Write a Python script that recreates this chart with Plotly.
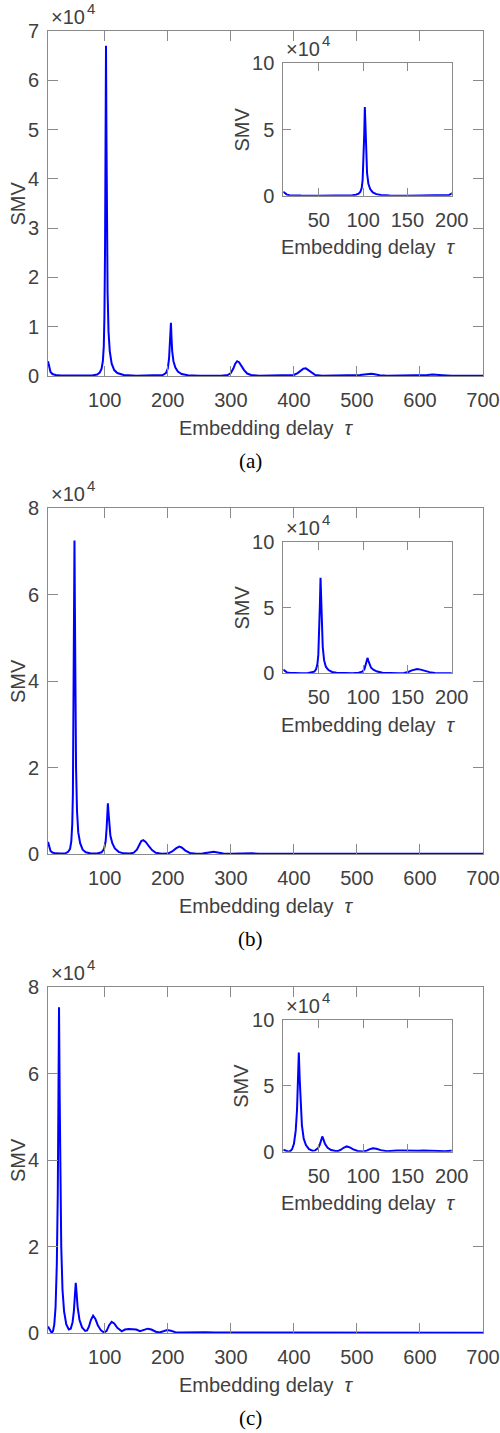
import plotly.graph_objects as go

W, H = 500, 1433

# ---------------- data (SMV in units of 1e4) ----------------
tau_a = [10, 12, 14, 17, 22, 30, 50, 80, 88, 92, 95, 97, 98.5, 99.5, 100.5, 101.3, 102, 102.7, 103.5, 104.5,
         106, 108, 111, 115, 120, 130, 150, 180, 192, 197, 200, 202, 203.5, 204.5, 205, 206, 207, 209, 212,
         216, 222, 232, 250, 285, 295, 300, 304, 307, 310, 313, 317, 321, 326, 332, 345, 390, 400, 406, 411,
         415, 419, 423, 428, 434, 445, 495, 505, 512, 518, 523, 528, 536, 548, 600, 612, 620, 628, 636, 650, 700]
smv_a = [0.30, 0.15, 0.08, 0.04, 0.02, 0.01, 0.005, 0.01, 0.03, 0.07, 0.15, 0.3, 0.6, 1.2, 2.6, 4.6, 6.7, 4.9, 2.9, 1.7,
         0.9, 0.5, 0.25, 0.12, 0.06, 0.02, 0.005, 0.005, 0.02, 0.06, 0.15, 0.35, 0.7, 1.0, 1.08, 0.75, 0.5, 0.3, 0.17,
         0.09, 0.04, 0.015, 0.005, 0.005, 0.02, 0.06, 0.15, 0.25, 0.30, 0.28, 0.2, 0.12, 0.05, 0.02, 0.005, 0.005, 0.02, 0.06, 0.11,
         0.15, 0.155, 0.12, 0.06, 0.02, 0.005, 0.005, 0.02, 0.03, 0.04, 0.045, 0.035, 0.015, 0.005, 0.005, 0.02, 0.03, 0.03, 0.015, 0.005, 0.005]

tau_b = [10, 12, 14, 17, 22, 30, 38, 42, 45, 47, 48.5, 49.5, 50.5, 51.3, 52, 52.7, 53.5, 54.5, 56, 58, 61, 65, 70, 78,
         88, 95, 99, 101.5, 103, 104.2, 105, 106, 107.3, 109, 112, 116, 122, 130, 140, 146, 151, 155, 158, 161, 165,
         170, 175, 181, 190, 200, 207, 213, 218, 222, 228, 235, 245, 255, 262, 268, 273, 279, 288, 300, 312, 320, 326,
         333, 345, 365, 375, 382, 392, 420, 440, 460, 500, 560, 620, 700]
smv_b = [0.28, 0.14, 0.07, 0.035, 0.015, 0.01, 0.02, 0.05, 0.12, 0.3, 0.7, 1.4, 3.0, 5.2, 7.25, 5.6, 3.4, 2.0, 1.0, 0.5, 0.25, 0.1, 0.04, 0.01,
         0.01, 0.04, 0.12, 0.3, 0.6, 1.0, 1.17, 0.95, 0.65, 0.42, 0.25, 0.13, 0.05, 0.015, 0.01, 0.03, 0.1, 0.22, 0.3, 0.32, 0.28,
         0.18, 0.09, 0.03, 0.005, 0.01, 0.06, 0.13, 0.17, 0.15, 0.08, 0.025, 0.005, 0.01, 0.03, 0.045, 0.05, 0.035, 0.01, 0.005, 0.01, 0.02, 0.025,
         0.015, 0.005, 0.005, 0.012, 0.012, 0.004, 0.003, 0.006, 0.003, 0.004, 0.003, 0.003, 0.003]

tau_c = [10, 12, 14, 16, 18, 20, 22, 24, 25.5, 26.5, 27.5, 28.5, 29.5, 31, 33, 35.5, 39, 43, 46, 49, 51, 52.5, 54, 55.5,
         57, 60, 64, 69, 72, 75, 78, 81.5, 85, 89, 94, 99, 103, 107, 111, 115, 120, 127, 132, 138, 145, 150, 156, 162,
         168, 174, 181, 187, 193, 199, 205, 212, 220, 230, 245, 260, 275, 290, 300, 320, 350, 380, 410, 450, 500, 550,
         600, 650, 700]
smv_c = [0.15, 0.1, 0.03, 0.0, 0.05, 0.2, 0.6, 1.6, 3.2, 5.2, 7.53, 5.5, 3.6, 2.0, 1.0, 0.5, 0.2, 0.08, 0.1, 0.25, 0.5, 0.85, 1.16, 0.9,
         0.6, 0.3, 0.13, 0.05, 0.06, 0.15, 0.3, 0.4, 0.33, 0.18, 0.06, 0.01, 0.05, 0.18, 0.26, 0.22, 0.12, 0.04, 0.08, 0.09, 0.085, 0.08, 0.04, 0.07,
         0.1, 0.08, 0.03, 0.01, 0.04, 0.07, 0.05, 0.02, 0.01, 0.015, 0.01, 0.02, 0.01, 0.01, 0.015, 0.008, 0.012, 0.006, 0.01, 0.006, 0.008, 0.005,
         0.006, 0.004, 0.005]

main_xticks = [100, 200, 300, 400, 500, 600, 700]
inset_xticks = [50, 100, 150, 200]
inset_yticks = [0, 5, 10]
yticks_a = [0, 1, 2, 3, 4, 5, 6, 7]
yticks_bc = [0, 2, 4, 6, 8]
captions = ["(a)", "(b)", "(c)"]
xlabel = 'Embedding delay  <i>τ</i>'
ylabel = "SMV"
exp_base = "×10"
exp_power = "4"

# ---------------- layout helpers ----------------
def fx(px):
    return px / W

def fy(py):
    return 1 - py / H

FONT = "Liberation Sans, Arial, Helvetica, sans-serif"
AXC = "#8a8a8a"
TXT = "#404040"
LINE = "#0000ff"

def common(ticklen):
    return dict(showline=True, linecolor=AXC, linewidth=1, mirror="ticks", ticks="inside",
                ticklen=ticklen, tickcolor=AXC, tickwidth=1, showgrid=False, zeroline=False,
                automargin=False, tickfont=dict(family=FONT, size=20, color=TXT))

panels = [
    (tau_a, smv_a, yticks_a, 7, 31, 376, 63.3, 195.7),
    (tau_b, smv_b, yticks_bc, 8, 508, 854, 541.7, 673.3),
    (tau_c, smv_c, yticks_bc, 8, 987, 1333, 1020, 1151.7),
]

fig = go.Figure()
layout = dict(width=W, height=H, margin=dict(l=0, r=0, t=0, b=0),
              paper_bgcolor="white", plot_bgcolor="rgba(0,0,0,0)", showlegend=False)
annotations = []

for i, (tau, smv, yt, ymax, mt, mb, it, ib) in enumerate(panels):
    nm = 2 * i + 1
    ni = 2 * i + 2
    for n, x0, x1, t, b, xr, xt, yr, ytk, tl, ylx in [
        (nm, 48, 483, mt, mb, [10, 700], main_xticks, [0, ymax], yt, 10, 18),
        (ni, 283.3, 451.7, it, ib, [10, 200], inset_xticks, [0, 10], inset_yticks, 8, 241),
    ]:
        s = "" if n == 1 else str(n)
        xa = common(tl)
        xa.update(domain=[fx(x0), fx(x1)], range=xr, tickvals=xt, anchor="y" + s,
                  title=dict(text=xlabel, font=dict(family=FONT, size=20, color=TXT), standoff=10),
                  ticklabelstandoff=6)
        ya = common(tl)
        ya.update(domain=[fy(b), fy(t)], range=yr, tickvals=ytk, anchor="x" + s,
                  ticklabelstandoff=4)
        layout["xaxis" + s] = xa
        layout["yaxis" + s] = ya
        fig.add_trace(go.Scatter(x=tau, y=smv, mode="lines", line=dict(color=LINE, width=2),
                                 xaxis="x" + s, yaxis="y" + s, hoverinfo="skip"))
        annotations.append(dict(text=exp_base, xref="paper", yref="paper",
                                x=fx(x0 + 1), y=fy(t - 1), xanchor="left", yanchor="bottom",
                                showarrow=False, font=dict(family=FONT, size=20, color=TXT)))
        annotations.append(dict(text=exp_power, xref="paper", yref="paper",
                                x=fx(x0 + 37), y=fy(t - 12), xanchor="left", yanchor="bottom",
                                showarrow=False, font=dict(family=FONT, size=15, color=TXT)))
        annotations.append(dict(text=ylabel, xref="paper", yref="paper", textangle=-90,
                                x=fx(ylx), y=fy((t + b) / 2), xanchor="center", yanchor="middle",
                                showarrow=False, font=dict(family=FONT, size=20, color=TXT)))
    annotations.append(dict(text=captions[i], xref="paper", yref="paper", x=0.5, y=fy(mb + 85),
                            xanchor="center", yanchor="middle", showarrow=False,
                            font=dict(family="Liberation Serif, DejaVu Serif, serif", size=21, color="#000000")))

layout["annotations"] = annotations
fig.update_layout(**layout)
fig.write_html("out.html")
